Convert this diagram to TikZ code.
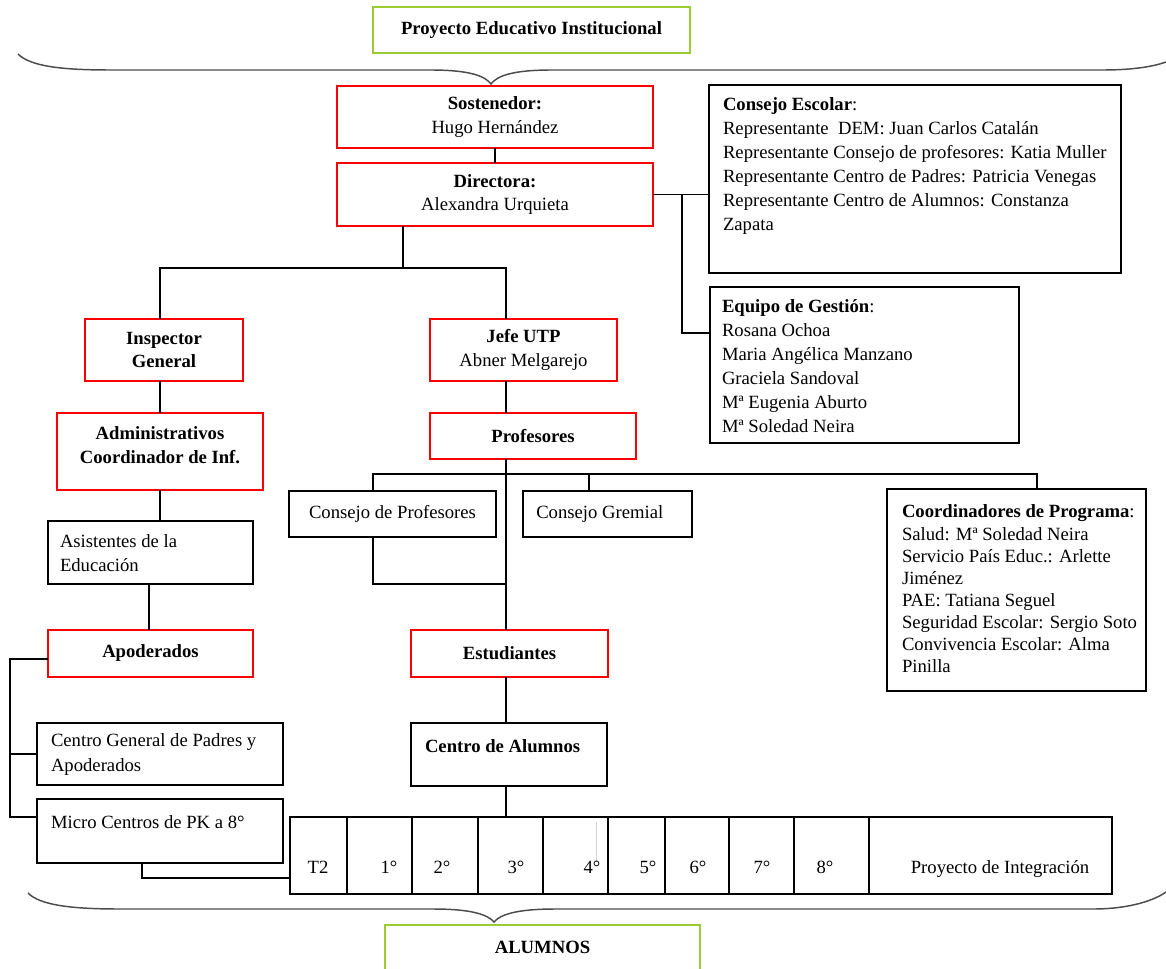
\documentclass[tikz,border=0pt]{standalone}
\usepackage{fontspec}
\setmainfont{Liberation Serif}
\usetikzlibrary{calc}
\definecolor{pgreen}{RGB}{155,204,50}
\newcommand\fs{\fontsize{14}{17.5}\selectfont}
\tikzset{
 box/.style={rectangle, inner sep=0pt, outer sep=0pt, line width=2pt, fill=white},
 redbox/.style={box, draw=red, align=center, font=\fs},
 blkbox/.style={box, draw=black, align=center, font=\fs},
 grnbox/.style={box, draw=pgreen, line width=2.2pt, font=\fs\bfseries},
 txt/.style={inner sep=0pt, outer sep=0pt, align=left, anchor=north west, font=\fs},
 celltxt/.style={inner sep=0pt, outer sep=0pt, anchor=base, font=\fs},
 conn/.style={line width=1pt, black},
 bracestyle/.style={line width=1.1pt, black!70},
 divider/.style={line width=1pt, black},
}
\newcommand\mkbox[7]{\node[#2, anchor=north west, minimum width={(#5-#3)*0.75pt}, minimum height={(#6-#4)*0.75pt}] (#1) at (#3,#4) {#7};}
\begin{document}
\begin{tikzpicture}[x=0.75pt,y=-0.75pt]
\useasboundingbox (0,0) rectangle (1166,969);

% braces
\draw[bracestyle] (18,54) .. controls (30,66) and (60,70) .. (110,70) -- (430,70)
  .. controls (470,70) and (485,76) .. (491,84) .. controls (497,76) and (512,70) .. (552,70)
  -- (1103,70) .. controls (1135,70) and (1155,66) .. (1166,62);
\draw[bracestyle] (28,893) .. controls (40,905) and (70,909) .. (120,909) -- (433,909)
  .. controls (473,909) and (488,915) .. (494,922) .. controls (500,915) and (515,909) .. (555,909)
  -- (1093,909) .. controls (1130,909) and (1155,900) .. (1166,892);

% green boxes
\mkbox{pei}{grnbox}{373}{7}{690}{53}{Proyecto Educativo Institucional}
\mkbox{alum}{grnbox}{385}{925}{700}{970}{ALUMNOS}

% red boxes
\mkbox{sost}{redbox}{337}{86}{653}{148}{\textbf{Sostenedor:}\\Hugo Hernández}
\mkbox{dir}{redbox}{337}{163}{653}{226}{\textbf{Directora:}\\Alexandra Urquieta}
\mkbox{ig}{redbox}{85}{319}{243}{381}{\textbf{Inspector}\\\textbf{General}}
\mkbox{jefe}{redbox}{430}{319}{617}{381}{\textbf{Jefe UTP}\\Abner Melgarejo}
\mkbox{admin}{redbox}{57}{413}{263}{490}{}
\node[inner sep=0pt, font=\fs\bfseries, align=center] (admintxt) at (160,445) {Administrativos\\Coordinador de Inf.};
\mkbox{prof}{redbox}{430}{413}{636}{459}{\textbf{Profesores}}
\mkbox{apod}{redbox}{48}{630}{253}{677}{\textbf{Apoderados}}
\mkbox{est}{redbox}{411}{630}{608}{677}{\textbf{Estudiantes}}

% black boxes
\mkbox{cons}{blkbox}{709}{85}{1121}{273}{}
\node[txt, font=\fontsize{14}{18}\selectfont] (constxt) at (723,98) {\textbf{Consejo Escolar}:\\
Representante\ \ DEM: Juan Carlos Catalán\\
Representante Consejo de profesores: Katia Muller\\
Representante Centro de Padres: Patricia Venegas\\
Representante Centro de Alumnos: Constanza\\
Zapata};
\mkbox{equipo}{blkbox}{710}{287}{1019}{443}{}
\node[txt, font=\fontsize{14}{17.9}\selectfont] (equipotxt) at (722,300) {\textbf{Equipo de Gestión}:\\
Rosana Ochoa\\
Maria Angélica Manzano\\
Graciela Sandoval\\
Mª Eugenia Aburto\\
Mª Soledad Neira};
\mkbox{asis}{blkbox}{48}{521}{253}{584}{}
\node[txt, font=\fontsize{14}{18}\selectfont] (asistxt) at (60,535) {Asistentes de la\\Educación};
\mkbox{cprof}{blkbox}{289}{491}{496}{537}{Consejo de Profesores}
\mkbox{cgrem}{blkbox}{523}{491}{692}{537}{}
\node[inner sep=0pt, anchor=west, font=\fs] (cgremtxt) at (536,514) {Consejo Gremial};
\mkbox{coord}{blkbox}{887}{489}{1146}{691}{}
\node[txt, font=\fontsize{14}{16.6}\selectfont] (coordtxt) at (902,505) {\textbf{Coordinadores de Programa}:\\
Salud: Mª Soledad Neira\\
Servicio País Educ.: Arlette\\
Jiménez\\
PAE: Tatiana Seguel\\
Seguridad Escolar: Sergio Soto\\
Convivencia Escolar: Alma\\
Pinilla};
\mkbox{cgen}{blkbox}{37}{723}{283}{785}{}
\node[txt, font=\fontsize{14}{18.5}\selectfont] (cgentxt) at (51,734) {Centro General de Padres y\\Apoderados};
\mkbox{micro}{blkbox}{37}{799}{283}{863}{}
\node[txt] (microtxt) at (51,816) {Micro Centros de PK a 8°};
\mkbox{calum}{blkbox}{411}{723}{607}{786}{}
\node[txt] (calumtxt) at (425,740) {\textbf{Centro de Alumnos}};

% grade table
\mkbox{tbl}{blkbox}{290}{817}{1112}{894}{}
\foreach \dx in {347,412,478,543,608,665,729,794,869}
  \draw[divider] (tbl.north -| \dx,0) -- (tbl.south -| \dx,0);
\draw[gray!35, line width=0.4pt] (596,822) -- (596,862);
\node[celltxt] (gT) at (318,873) {T2};
\node[celltxt] (g1) at (389,873) {1°};
\node[celltxt] (g2) at (442,873) {2°};
\node[celltxt] (g3) at (516,873) {3°};
\node[celltxt] (g4) at (592,873) {4°};
\node[celltxt] (g5) at (648,873) {5°};
\node[celltxt] (g6) at (698,873) {6°};
\node[celltxt] (g7) at (762,873) {7°};
\node[celltxt] (g8) at (825,873) {8°};
\node[celltxt] (gPI) at (1000,873) {Proyecto de Integración};

% helper coordinates
\coordinate (vx) at (506,0);
\coordinate (dx) at (403,0);
\coordinate (ax) at (160,0);
\coordinate (bx) at (149,0);
\coordinate (jx) at (682,0);
\coordinate (lx) at (10,0);
\coordinate (mx) at (142,0);
\coordinate (px) at (373,0);
\coordinate (gx) at (589,0);
\coordinate (cx) at (1037,0);
\coordinate (by) at (0,268);
\coordinate (eqy) at (0,333);
\coordinate (busy) at (0,474);
\coordinate (uy) at (0,584);
\coordinate (ly) at (0,659);
\coordinate (my) at (0,817);
\coordinate (ty) at (0,878);

% connectors
\draw[conn] (sost.south) -- (dir.north);
\draw[conn] (dir.east) -- (dir.east -| cons.west);
\draw[conn] (dir.east -| jx) -- (jx |- eqy) -- (equipo.west |- eqy);
\draw[conn] (dir.south -| dx) -- (dx |- by);
\draw[conn] (ig.north -| ax) -- (ax |- by) -- (vx |- by) -- (jefe.north -| vx);
\draw[conn] (ig.south -| ax) -- (admin.north -| ax);
\draw[conn] (admin.south -| ax) -- (asis.north -| ax);
\draw[conn] (asis.south -| bx) -- (apod.north -| bx);
\draw[conn] (apod.west |- ly) -- (lx |- ly) -- (lx |- my) -- (micro.west |- my);
\draw[conn] (cgen.west -| lx) -- (cgen.west);
\draw[conn] (micro.south -| mx) -- (mx |- ty) -- (tbl.west |- ty);
\draw[conn] (jefe.south -| vx) -- (prof.north -| vx);
\draw[conn] (prof.south -| vx) -- (est.north -| vx);
\draw[conn] (cprof.north -| px) -- (px |- busy) -- (cx |- busy) -- (coord.north -| cx);
\draw[conn] (gx |- busy) -- (cgrem.north -| gx);
\draw[conn] (cprof.south -| px) -- (px |- uy) -- (vx |- uy);
\draw[conn] (est.south -| vx) -- (calum.north -| vx);
\draw[conn] (calum.south -| vx) -- (tbl.north -| vx);
\end{tikzpicture}
\end{document}
